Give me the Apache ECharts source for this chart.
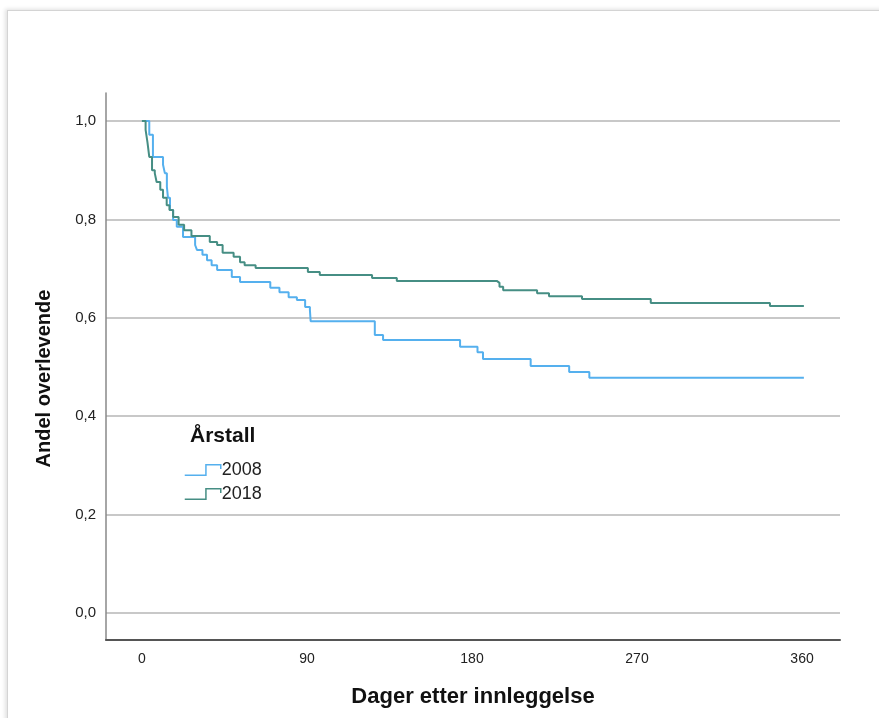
<!DOCTYPE html>
<html>
<head>
	<meta charset="utf-8">
	<title>overlevelse</title>
	<script src="https://cdn.jsdelivr.net/npm/echarts@6/dist/echarts.min.js"></script>
	<style>
		body { margin: 0; background: #fff; }
		#frame { position: absolute; left: 7px; top: 10px; width: 900px; height: 720px;
			border: 1px solid #d4d4d4; box-shadow: -2px -1px 4px rgba(0,0,0,0.12); }
		#main { position: absolute; left: 0; top: 0; width: 879px; height: 718px; }
	</style>
</head>
<body>
	<div id="frame"></div>
	<div id="main"></div>
	<script type="text/javascript">
		// Kaplan-Meier trinn: [dag, andel overlevende]
		var km2008 = [
			[0, 1.0], [4, 0.972], [6, 0.927], [11.5, 0.911], [12.5, 0.894], [13.6, 0.866],
			[14.2, 0.844], [15.3, 0.819], [17, 0.799], [19, 0.785], [22.4, 0.764],
			[29, 0.748], [30, 0.738], [33, 0.728], [35.5, 0.717], [38, 0.707], [41, 0.697],
			[49, 0.683], [53.5, 0.673], [70, 0.661], [75, 0.652], [80, 0.642], [84.5, 0.636],
			[89, 0.622], [91.6, 0.616], [92, 0.593], [127, 0.565], [131.5, 0.555],
			[173.5, 0.541], [183, 0.530], [186, 0.516], [212, 0.502], [233, 0.490],
			[244, 0.478], [361, 0.478]
		];
		var km2018 = [
			[0, 1.0], [2, 0.982], [3, 0.957], [4, 0.927], [5.5, 0.900], [7, 0.894],
			[8, 0.876], [10, 0.860], [11.5, 0.844], [13.5, 0.829], [15, 0.819], [17, 0.805],
			[20, 0.789], [23, 0.778], [27, 0.766], [37, 0.754], [41, 0.748], [44, 0.732],
			[50, 0.724], [53.5, 0.713], [56, 0.707], [62, 0.701], [90.5, 0.693], [97, 0.687],
			[125.5, 0.681], [139, 0.675], [193.5, 0.671], [195, 0.663], [197, 0.656],
			[215.5, 0.650], [222, 0.644], [240, 0.638], [277.5, 0.630], [342.5, 0.624],
			[361, 0.624]
		];
		var seriesNames = ['2008', '2018'];
		var seriesColors = ['#55b0ee', '#468e84'];
		var xTicks = [0, 90, 180, 270, 360];
		var yTicks = [0, 0.2, 0.4, 0.6, 0.8, 1.0];

		var font = 'Liberation Sans, Arial, sans-serif';
		var myChart = echarts.init(document.getElementById('main'));
		var option = {
			animation: false,
			title: {
				text: 'Årstall',
				left: 190,
				top: 426,
				padding: 0,
				textStyle: { fontFamily: font, fontSize: 21, fontWeight: 'bold', color: '#111' }
			},
			legend: {
				data: seriesNames.map(function (n, i) {
					return { name: n, itemStyle: { color: 'rgba(0,0,0,0)', borderColor: seriesColors[i], borderWidth: 1.5 } };
				}),
				orient: 'vertical',
				left: 184,
				top: 461,
				padding: 0,
				itemGap: 6,
				itemWidth: 36,
				itemHeight: 12,
				icon: 'path://M0,11 L20,11 L20,1 L34,1 L34,5',
				textStyle: { fontFamily: font, fontSize: 18, color: '#222', padding: [0, 0, 0, -4] }
			},
			grid: { left: 106, right: 39, top: 93, bottom: 78 },
			xAxis: {
				type: 'value',
				min: -19.6,
				max: 380.7,
				name: 'Dager etter innleggelse',
				nameLocation: 'middle',
				nameGap: 46,
				nameTextStyle: { fontFamily: font, fontSize: 22, fontWeight: 'bold', color: '#111' },
				axisLine: { show: true, onZero: false, lineStyle: { color: '#555', width: 2 } },
				axisTick: { show: false, customValues: xTicks },
				axisLabel: { customValues: xTicks, margin: 12, fontFamily: font, fontSize: 14, color: '#222' },
				splitLine: { show: false }
			},
			yAxis: {
				type: 'value',
				min: -0.0549,
				max: 1.0569,
				name: 'Andel overlevende',
				nameLocation: 'middle',
				nameGap: 52,
				nameTextStyle: { fontFamily: font, fontSize: 20, fontWeight: 'bold', color: '#111', padding: [0, 24, 0, 0] },
				axisLine: { show: true, onZero: false, lineStyle: { color: '#888', width: 1.5 } },
				axisTick: { show: false, customValues: yTicks },
				axisLabel: {
					customValues: yTicks, margin: 10, fontFamily: font, fontSize: 15, color: '#222',
					formatter: function (v) { return v.toFixed(1).replace('.', ','); }
				},
				splitLine: { show: true, lineStyle: { color: '#c8c8c8', width: 2 } }
			},
			series: [
				{
					name: seriesNames[0],
					type: 'line',
					step: 'end',
					data: km2008,
					showSymbol: false,
					color: seriesColors[0],
					lineStyle: { width: 2 }
				},
				{
					name: seriesNames[1],
					type: 'line',
					step: 'end',
					data: km2018,
					showSymbol: false,
					color: seriesColors[1],
					lineStyle: { width: 2 }
				}
			]
		};
		myChart.setOption(option);
	</script>
</body>
</html>
